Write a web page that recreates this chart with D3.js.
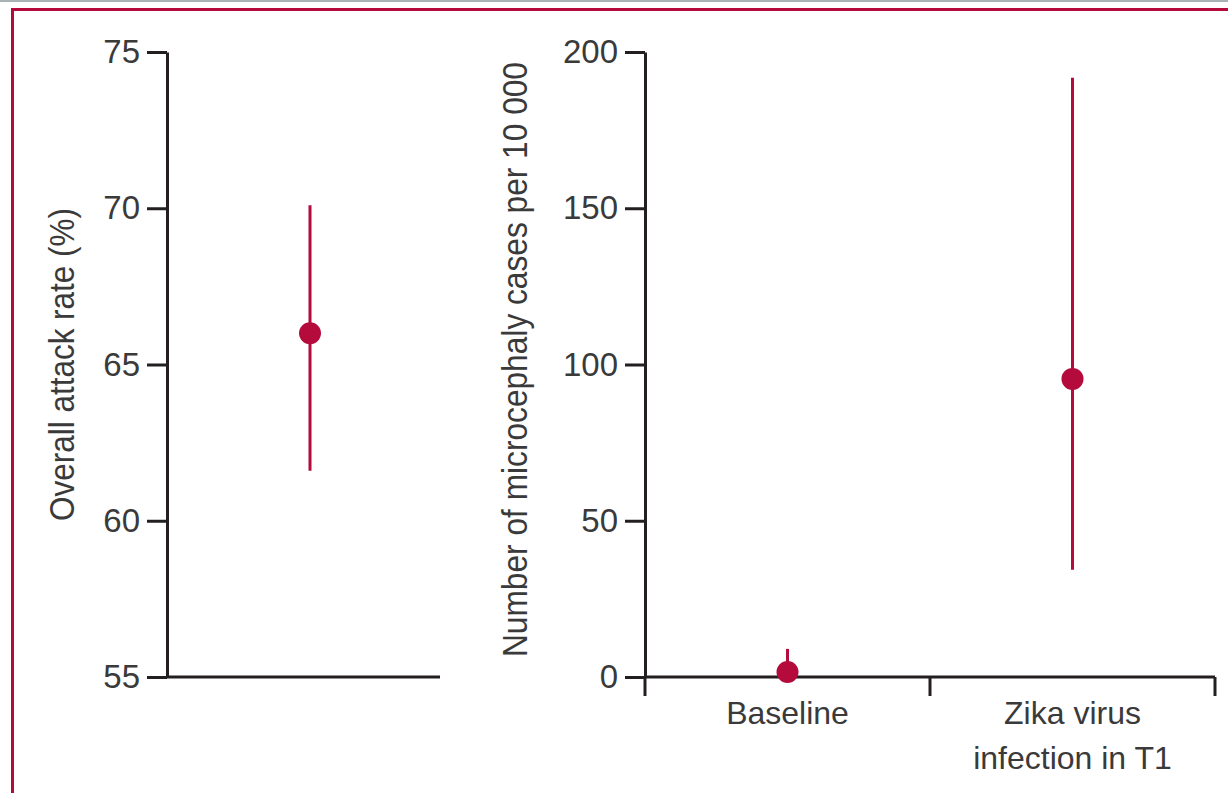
<!DOCTYPE html>
<html>
<head>
<meta charset="utf-8">
<script src="https://cdn.jsdelivr.net/npm/d3@7"></script>
<style>
  body { margin: 0; background: #fff; }
  svg { display: block; }
  .tick text { font-family: "Liberation Sans", Arial, sans-serif; fill: #3a3a3a; }
</style>
</head>
<body>
<svg id="chart" width="1228" height="793"></svg>
<script>
// left panel: overall attack rate (%)
const attackCats = ["Overall"];
const attackEst = [66.0];
const attackLo = [61.6];
const attackHi = [70.1];
const attackTicks = [55, 60, 65, 70, 75];

// right panel: microcephaly cases per 10 000
const microCats = ["Baseline", "Zika virus infection in T1"];
const microLabels = [["Baseline"], ["Zika virus", "infection in T1"]];
const microEst = [1.6, 95.4];
const microLo = [0.2, 34.3];
const microHi = [9.0, 191.8];
const microTicks = [0, 50, 100, 150, 200];

const red = "#b40a3c";
const ink = "#231f20";
const font = '"Liberation Sans", Arial, sans-serif';

const svg = d3.select("#chart");

// frame
svg.append("rect").attr("x", 0).attr("y", 0).attr("width", 1228).attr("height", 2).attr("fill", "#a9b3b5");
svg.append("line").attr("x1", 11).attr("x2", 1228).attr("y1", 9.5).attr("y2", 9.5)
  .attr("stroke", red).attr("stroke-width", 3);
svg.append("line").attr("x1", 12.5).attr("x2", 12.5).attr("y1", 8).attr("y2", 793)
  .attr("stroke", red).attr("stroke-width", 3);

const plotTop = 52, plotBottom = 677;

function styleAxis(g) {
  g.select(".domain").attr("stroke", ink).attr("stroke-width", 3);
  g.selectAll(".tick line").attr("stroke", ink).attr("stroke-width", 3);
  g.selectAll(".tick text").attr("font-size", 33);
}

function errorBars(g, x, y, cats, est, lo, hi) {
  g.selectAll(".bar").data(cats).enter().append("line")
    .attr("x1", d => x(d) + x.bandwidth() / 2)
    .attr("x2", d => x(d) + x.bandwidth() / 2)
    .attr("y1", (d, i) => y(lo[i]))
    .attr("y2", (d, i) => y(hi[i]))
    .attr("stroke", red).attr("stroke-width", 3);
  g.selectAll(".dot").data(cats).enter().append("circle")
    .attr("cx", d => x(d) + x.bandwidth() / 2)
    .attr("cy", (d, i) => y(est[i]))
    .attr("r", 11)
    .attr("fill", red);
}

// ---- left panel
const yA = d3.scaleLinear().domain([55, 75]).range([plotBottom, plotTop]);
const xA = d3.scaleBand().domain(attackCats).range([167, 453]);

svg.append("line").attr("x1", 167).attr("x2", 440).attr("y1", plotBottom).attr("y2", plotBottom)
  .attr("stroke", ink).attr("stroke-width", 3);

svg.append("g").attr("transform", "translate(167,0)")
  .call(d3.axisLeft(yA).tickValues(attackTicks).tickSize(20).tickSizeOuter(0).tickPadding(7))
  .call(styleAxis);

svg.append("text")
  .attr("transform", "translate(74," + (plotTop + plotBottom) / 2 + ") rotate(-90)")
  .attr("text-anchor", "middle")
  .attr("font-family", font).attr("font-size", 35).attr("fill", "#3a3a3a")
  .attr("textLength", 313).attr("lengthAdjust", "spacingAndGlyphs")
  .text("Overall attack rate (%)");

errorBars(svg.append("g"), xA, yA, attackCats, attackEst, attackLo, attackHi);

// ---- right panel
const yM = d3.scaleLinear().domain([0, 200]).range([plotBottom, plotTop]);
const xM = d3.scaleBand().domain(microCats).range([645, 1215]);

const xg = svg.append("g").attr("transform", "translate(0," + plotBottom + ")");
xg.append("line").attr("x1", 645).attr("x2", 1215).attr("stroke", ink).attr("stroke-width", 3);
const edges = microCats.map(d => xM(d)).concat([xM(microCats[microCats.length - 1]) + xM.bandwidth()]);
xg.selectAll(".edge").data(edges).enter().append("line")
  .attr("x1", d => d).attr("x2", d => d).attr("y1", 0).attr("y2", 19)
  .attr("stroke", ink).attr("stroke-width", 3);
const lab = xg.selectAll(".lab").data(microCats).enter().append("text")
  .attr("x", d => xM(d) + xM.bandwidth() / 2)
  .attr("y", 47)
  .attr("text-anchor", "middle")
  .attr("font-family", font).attr("font-size", 32).attr("fill", "#3a3a3a");
lab.selectAll("tspan").data((d, i) => microLabels[i]).enter().append("tspan")
  .attr("x", function () { return this.parentNode.getAttribute("x"); })
  .attr("dy", (d, j) => j === 0 ? 0 : 45)
  .text(d => d);

svg.append("g").attr("transform", "translate(645,0)")
  .call(d3.axisLeft(yM).tickValues(microTicks).tickSize(20).tickSizeOuter(0).tickPadding(7))
  .call(styleAxis);

svg.append("text")
  .attr("transform", "translate(527,359.5) rotate(-90)")
  .attr("text-anchor", "middle")
  .attr("font-family", font).attr("font-size", 35).attr("fill", "#3a3a3a")
  .attr("textLength", 595).attr("lengthAdjust", "spacingAndGlyphs")
  .text("Number of microcephaly cases per 10 000");

errorBars(svg.append("g"), xM, yM, microCats, microEst, microLo, microHi);
</script>
</body>
</html>
